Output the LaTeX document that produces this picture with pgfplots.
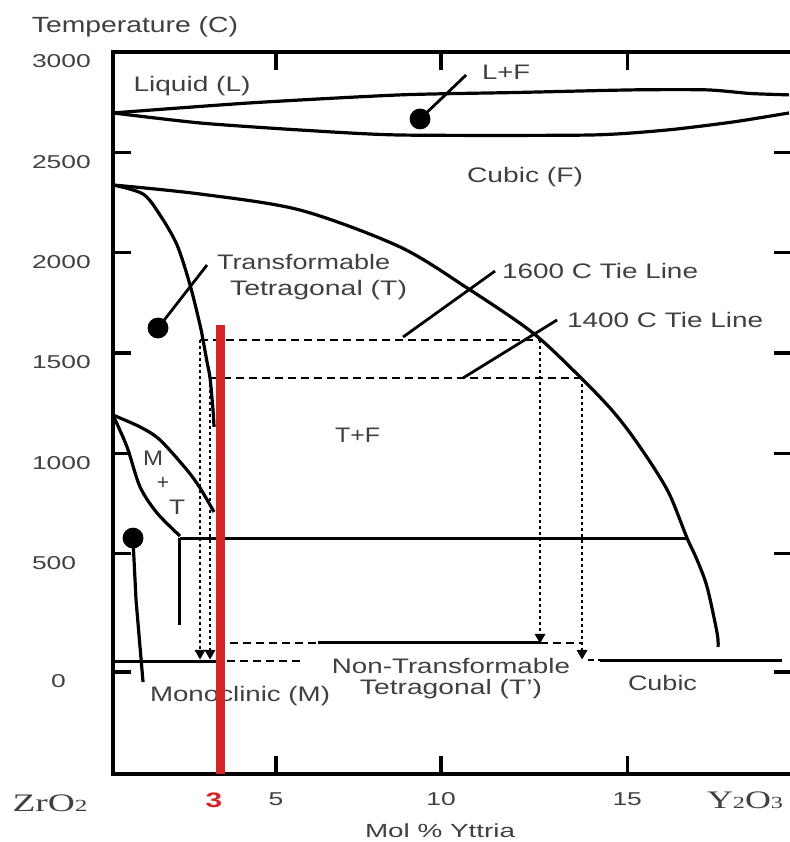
\documentclass[border=0pt]{standalone}
\usepackage{pgfplots}
\pgfplotsset{compat=1.18}
\usepackage{fontspec}
\setmainfont{Liberation Sans}
\newfontfamily\serifz{Liberation Serif}
\usepackage{graphicx}
\definecolor{txt}{gray}{0.25}
\definecolor{redline}{RGB}{212,38,38}
\newcommand\sx[1]{\scalebox{1.42}[1]{#1}}
\newcommand\lab[2]{\resizebox{#1}{\height}{#2}}
\tikzset{ann/.style={font=\fontsize{10.5}{12}\selectfont, text=txt, inner sep=0pt}}
\begin{document}
\begin{tikzpicture}
\begin{axis}[
  x=16.5pt, y=0.1003pt,
  xmin=0.06, xmax=20.62, ymin=-600, ymax=3000,
  clip=false,
  axis line style={line width=1.9pt},
  tick align=inside, tick pos=both,
  major tick length=9pt,
  tick style={line width=1.6pt, black},
  xtick={5,10,15.64}, xticklabels={\sx{5},\sx{10},\sx{15}},
  ytick={-90,500,1000,1500,2000,2500,3000},
  yticklabels={\hspace*{9.5pt}\sx{0},\sx{500},\sx{1000},\sx{1500},\sx{2000},\sx{2500},\sx{3000}},
  ticklabel style={font=\fontsize{9.3}{11}\selectfont, text=txt},
  yticklabel style={anchor=west, xshift=-44pt, yshift=-4.7pt},
  xticklabel style={yshift=-5.5pt},
  extra x ticks={3.12},
  extra x tick labels={\textcolor{redline}{\bfseries\fontsize{10.5}{11}\selectfont\sx{3}}},
  extra x tick style={major tick length=0pt},
]
% liquidus / solidus
\addplot[line width=1.6pt, smooth, tension=0.4] coordinates {(0.06,2697) (4.212,2747) (8.758,2787) (12.303,2799) (15.818,2812) (18.061,2812) (19.364,2794) (20.545,2787)};
\addplot[line width=1.6pt, smooth, tension=0.4] coordinates {(0.06,2697) (2.697,2647) (5.727,2612) (8.758,2587) (14.515,2587) (16.848,2612) (18.848,2652) (20.545,2697)};
% cubic boundary
\addplot[line width=1.6pt, smooth, tension=0.5] coordinates {(0.06,2338) (2.697,2293) (5.727,2213) (8.758,2029) (10.879,1815) (12.788,1600) (14.212,1381) (15.121,1226) (15.727,1102) (16.424,935) (16.939,790) (17.455,578) (17.758,469) (18.061,334) (18.364,105) (18.394,35)};
% tetragonal boundary
\addplot[line width=1.6pt, smooth, tension=0.5] coordinates {(0.06,2338) (0.970,2293) (1.485,2188) (2.0,2039) (2.394,1840) (2.697,1640) (2.788,1565) (2.909,1456) (3.0,1376) (3.091,1216) (3.121,1132)};
% M+T region
\addplot[line width=1.6pt, smooth, tension=0.5] coordinates {(0.06,1191) (0.879,1132) (1.485,1067) (2.303,917) (2.697,828) (3.121,708)};
\addplot[line width=1.6pt, smooth, tension=0.5] coordinates {(0.06,1191) (0.485,1032) (0.879,833) (1.394,703) (2.091,588)};
% eutectoid line and vertical
\addplot[line width=1.5pt] coordinates {(2.091,578) (17.455,578)};
\addplot[line width=1.5pt] coordinates {(2.076,578) (2.076,145)};
% monoclinic boundary
\addplot[line width=1.6pt] coordinates {(0.667,568) (0.758,269) (0.970,-140)};
% leaders
\addplot[line width=1.4pt] coordinates {(9.364,2667) (10.758,2886)};
\addplot[line width=1.4pt] coordinates {(1.424,1625) (2.909,1939)};
\addplot[line width=1.4pt] coordinates {(8.848,1580) (11.636,1909)};
\addplot[line width=1.4pt] coordinates {(10.667,1376) (13.515,1665)};
% tie lines
\addplot[line width=0.9pt, dash pattern=on 4pt off 2.5pt] coordinates {(2.697,1565) (13.0,1565)};
\addplot[line width=0.9pt, dash pattern=on 4pt off 2.5pt] coordinates {(3.0,1376) (14.212,1376)};
% dotted verticals
\addplot[line width=1pt, dash pattern=on 1.5pt off 1.5pt] coordinates {(2.697,1565) (2.697,20)};
\addplot[line width=1pt, dash pattern=on 1.5pt off 1.5pt] coordinates {(3.0,1376) (3.0,20)};
\addplot[line width=1pt, dash pattern=on 1.5pt off 1.5pt] coordinates {(13.0,1565) (13.0,85)};
\addplot[line width=1pt, dash pattern=on 1.5pt off 1.5pt] coordinates {(14.273,1376) (14.273,20)};
% bottom lines
\addplot[line width=0.9pt, dash pattern=on 4pt off 2.5pt] coordinates {(3.6,55) (6.273,55)};
\addplot[line width=1.5pt] coordinates {(6.273,55) (13.0,55)};
\addplot[line width=0.9pt, dash pattern=on 4pt off 2.5pt] coordinates {(13.0,55) (14.273,55)};
\addplot[line width=1.5pt] coordinates {(0.06,-35) (3.2,-35)};
\addplot[line width=0.9pt, dash pattern=on 4pt off 2.5pt] coordinates {(3.515,-35) (5.727,-35)};
\addplot[line width=0.9pt, dash pattern=on 3pt off 2pt] coordinates {(14.45,-30) (14.818,-30)};
\addplot[line width=1.5pt] coordinates {(14.818,-30) (20.333,-30)};
% markers
\addplot[only marks, mark=*, mark size=5pt, black] coordinates {(9.364,2667) (1.424,1625) (0.667,578)};
\addplot[only marks, mark=triangle*, mark size=2.8pt, mark options={rotate=180}, black] coordinates {(2.697,5) (3.0,5) (13.0,85) (14.273,5)};
% labels
\node[ann, font=\fontsize{11}{13}\selectfont] at (axis cs:0.727,3126) {\lab{103pt}{Temperature (C)}};
\node[ann] at (axis cs:2.455,2831) {\lab{58.5pt}{Liquid (L)}};
\node[ann] at (axis cs:11.97,2901) {\lab{24pt}{L+F}};
\node[ann] at (axis cs:12.545,2378) {\lab{58pt}{Cubic (F)}};
\node[ann] at (axis cs:5.833,1954) {\lab{86.5pt}{Transformable}};
\node[ann] at (axis cs:6.288,1815) {\lab{88.5pt}{Tetragonal (T)}};
\node[ann] at (axis cs:14.818,1909) {\lab{98pt}{1600 C Tie Line}};
\node[ann] at (axis cs:16.788,1665) {\lab{98pt}{1400 C Tie Line}};
\node[ann] at (axis cs:7.47,1092) {\lab{22.5pt}{T+F}};
\node[ann] at (axis cs:1.273,977) {\lab{10pt}{M}};
\node[ann] at (axis cs:1.576,852) {+};
\node[ann] at (axis cs:2.0,733) {\lab{8pt}{T}};
\node[ann] at (axis cs:10.30,-60) {\lab{119pt}{Non-Transformable}};
\node[ann] at (axis cs:10.30,-174) {\lab{91pt}{Tetragonal (T')}};
\node[ann] at (axis cs:3.909,-209) {\lab{90pt}{Monoclinic (M)}};
\node[ann] at (axis cs:16.71,-145) {\lab{34.5pt}{Cubic}};
\node[ann, font=\serifz\fontsize{12.6}{14}\selectfont] at (axis cs:-1.848,-743) {\lab{37.5pt}{ZrO{\fontsize{8.5}{9}\selectfont 2}}};
\node[ann, font=\serifz\fontsize{12.6}{14}\selectfont] at (axis cs:19.212,-728) {\lab{38pt}{Y{\fontsize{8.5}{9}\selectfont 2}O{\fontsize{8.5}{9}\selectfont 3}}};
\node[ann, font=\fontsize{9.5}{11}\selectfont] at (axis cs:9.97,-882) {\lab{75pt}{Mol \% Yttria}};
% red line
\addplot[redline, line width=4.5pt] coordinates {(3.318,1640) (3.318,-600)};
\coordinate (bbsw) at (axis cs:-3.364,-937);
\coordinate (bbne) at (axis cs:20.545,3260);
\end{axis}
\pgfresetboundingbox
\useasboundingbox (bbsw) rectangle (bbne);
\end{tikzpicture}
\end{document}
